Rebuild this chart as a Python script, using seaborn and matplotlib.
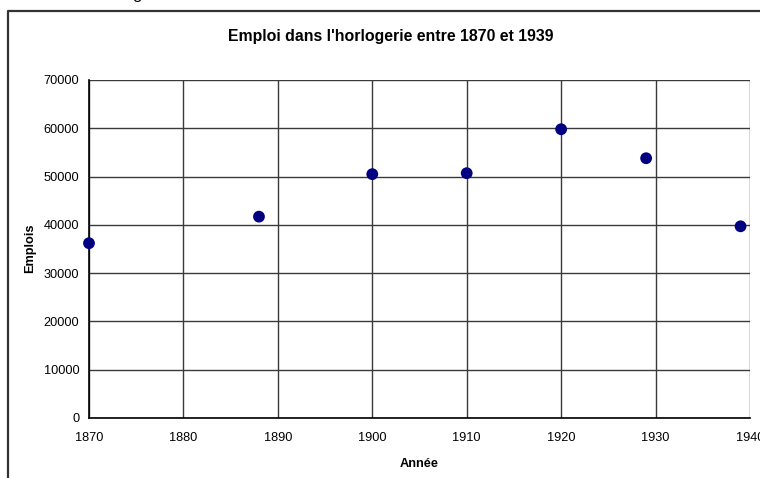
import seaborn as sns
import matplotlib.pyplot as plt
import pandas as pd
from matplotlib.lines import Line2D

# Data
annees = [1870, 1888, 1900, 1910, 1920, 1929, 1939]
emplois = [36200, 41700, 50500, 50700, 59800, 53800, 39700]

x_ticks = [1870, 1880, 1890, 1900, 1910, 1920, 1930, 1940]
y_ticks = [0, 10000, 20000, 30000, 40000, 50000, 60000, 70000]

df = pd.DataFrame({"Année": annees, "Emplois": emplois})

sns.set_style("white")
plt.rcParams["font.family"] = ["Liberation Sans", "DejaVu Sans"]
plt.rcParams["text.color"] = "black"
plt.rcParams["xtick.color"] = "black"
plt.rcParams["ytick.color"] = "black"
plt.rcParams["axes.labelcolor"] = "black"

fig = plt.figure(figsize=(7.6, 4.78), dpi=100)
ax = fig.add_axes([89 / 760, 60 / 478, 661 / 760, 338 / 478])

sns.scatterplot(data=df, x="Année", y="Emplois", ax=ax, s=72,
                color="#000080", edgecolor="none", zorder=3, clip_on=False)

ax.set_xlim(1870, 1940)
ax.set_ylim(0, 70000)
ax.set_xticks(x_ticks)
ax.set_yticks(y_ticks)
ax.tick_params(axis="both", labelsize=9.2, direction="out", length=4,
               width=1, color="black", labelcolor="black", pad=3)
ax.tick_params(axis="x", pad=6)
ax.grid(True, color="#3a3a3a", linewidth=1)
for side in ["top", "right"]:
    ax.spines[side].set_visible(False)
for side in ["left", "bottom"]:
    ax.spines[side].set_color("black")
    ax.spines[side].set_linewidth(1.2)

ax.set_xlabel("Année", fontsize=9.2, fontweight="bold", labelpad=10,
              color="black")
ax.set_ylabel("")
fig.text(30 / 760, 1 - 248 / 478, "Emplois", rotation=90, fontsize=9.2,
         fontweight="bold", ha="center", va="center", color="black")

fig.text(391 / 760, 1 - 36 / 478, "Emploi dans l'horlogerie entre 1870 et 1939",
         fontsize=11.4, fontweight="bold", ha="center", va="center",
         color="black")

# outer chart frame (only the top and left edges are visible in this crop)
fig.add_artist(Line2D([8 / 760, 8 / 760, 1.0], [0.0, 1 - 11 / 478, 1 - 11 / 478],
                      transform=fig.transFigure, color="#333333", linewidth=1.6))

# descender of a caption cut off above the chart
fig.text(137 / 760, 1 + 1 / 478, "g", fontsize=12, ha="center", va="baseline",
         color="black")

fig.savefig("out.png", dpi=100)
